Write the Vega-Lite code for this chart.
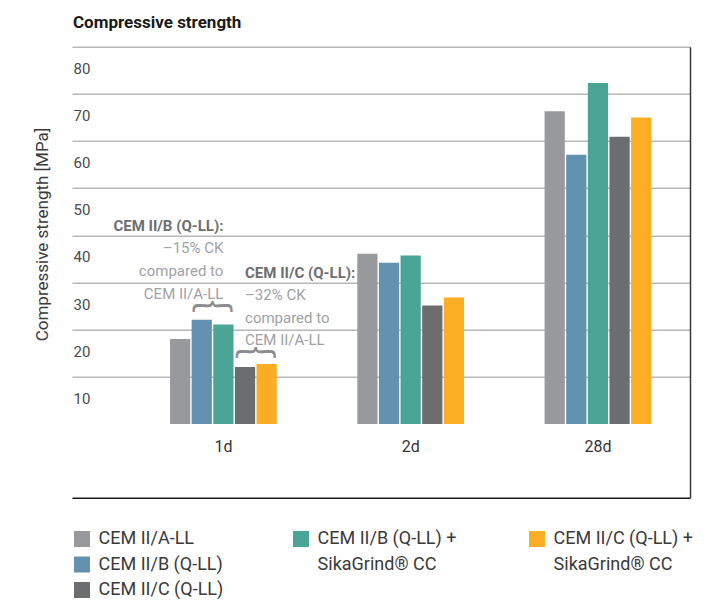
{
  "$schema": "https://vega.github.io/schema/vega-lite/v6.json",
  "width": 618,
  "height": 451,
  "autosize": {"type": "none"},
  "padding": {"left": 72, "top": 46.7, "right": 21.5, "bottom": 103.3},
  "background": "white",
  "title": {"text": "Compressive strength", "anchor": "start", "frame": "group", "font": "Roboto", "fontSize": 17, "fontWeight": "bold", "color": "#1a1a1a", "baseline": "alphabetic", "offset": 1.5, "dx": 1},
  "config": {
    "view": {"stroke": null},
    "font": "Roboto",
    "axis": {"labelFont": "Roboto", "titleFont": "Roboto"},
    "axisLeft": {"domain": false, "ticks": false, "tickSize": 0, "grid": true, "gridColor": "#b8b8b8", "gridWidth": 1.5, "labelAlign": "left", "labelBaseline": "middle", "labelPadding": -1, "labelOffset": 21.6, "labelFontSize": 15, "labelColor": "#4a4a4a", "titleFontSize": 17, "titleFontWeight": "normal", "titleColor": "#3a3a3a", "titleX": -30, "titleY": 187.3, "titleAlign": "center", "titleBaseline": "middle", "titleAngle": -90},
    "axisRight": {"domain": true, "domainColor": "#3a3a3a", "domainWidth": 1.5, "labels": false, "ticks": false, "grid": false},
    "axisBottom": {"domain": true, "domainColor": "#1a1a1a", "domainWidth": 1.5, "ticks": false, "tickSize": 0, "labelPadding": -51, "labelBaseline": "middle", "labelFontSize": 16, "labelColor": "#333333", "labelAngle": 0, "grid": false},
    "legend": {"orient": "none", "title": null, "padding": 0, "rowPadding": 7.5, "symbolType": "square", "symbolSize": 256, "symbolStrokeWidth": 0, "symbolOpacity": 1, "labelFont": "Roboto", "labelFontSize": 18, "labelColor": "#3a3a3a", "labelOffset": 7.6, "labelLimit": 400}
  },
  "datasets": {
    "bars": [
      {"period": "1d", "series": "CEM II/A-LL", "value": 18.0},
      {"period": "1d", "series": "CEM II/B (Q-LL)", "value": 22.1},
      {"period": "1d", "series": "CEM II/B (Q-LL) + SikaGrind® CC", "value": 21.1},
      {"period": "1d", "series": "CEM II/C (Q-LL)", "value": 12.1},
      {"period": "1d", "series": "CEM II/C (Q-LL) + SikaGrind® CC", "value": 12.7},
      {"period": "2d", "series": "CEM II/A-LL", "value": 36.1},
      {"period": "2d", "series": "CEM II/B (Q-LL)", "value": 34.2},
      {"period": "2d", "series": "CEM II/B (Q-LL) + SikaGrind® CC", "value": 35.7},
      {"period": "2d", "series": "CEM II/C (Q-LL)", "value": 25.1},
      {"period": "2d", "series": "CEM II/C (Q-LL) + SikaGrind® CC", "value": 26.8},
      {"period": "28d", "series": "CEM II/A-LL", "value": 66.3},
      {"period": "28d", "series": "CEM II/B (Q-LL)", "value": 57.1},
      {"period": "28d", "series": "CEM II/B (Q-LL) + SikaGrind® CC", "value": 72.3},
      {"period": "28d", "series": "CEM II/C (Q-LL)", "value": 60.9},
      {"period": "28d", "series": "CEM II/C (Q-LL) + SikaGrind® CC", "value": 65.0}
    ],
    "notes": [
      {"group": "r", "kind": "head", "period": "1d", "series": "CEM II/B (Q-LL) + SikaGrind® CC", "y": 41.0, "text": "CEM II/B (Q-LL):"},
      {"group": "r", "kind": "body", "period": "1d", "series": "CEM II/B (Q-LL) + SikaGrind® CC", "y": 36.2, "text": "–15% CK"},
      {"group": "r", "kind": "body", "period": "1d", "series": "CEM II/B (Q-LL) + SikaGrind® CC", "y": 31.4, "text": "compared to"},
      {"group": "r", "kind": "body", "period": "1d", "series": "CEM II/B (Q-LL) + SikaGrind® CC", "y": 26.6, "text": "CEM II/A-LL"},
      {"group": "l", "kind": "head", "period": "1d", "series": "CEM II/C (Q-LL)", "y": 31.0, "text": "CEM II/C (Q-LL):"},
      {"group": "l", "kind": "body", "period": "1d", "series": "CEM II/C (Q-LL)", "y": 26.2, "text": "–32% CK"},
      {"group": "l", "kind": "body", "period": "1d", "series": "CEM II/C (Q-LL)", "y": 21.5, "text": "compared to"},
      {"group": "l", "kind": "body", "period": "1d", "series": "CEM II/C (Q-LL)", "y": 16.7, "text": "CEM II/A-LL"}
    ],
    "braces": [
      {"period": "1d", "series": "CEM II/B (Q-LL)", "y": 27.3, "text": "︷"},
      {"period": "1d", "series": "CEM II/C (Q-LL)", "y": 17.7, "text": "︷"}
    ]
  },
  "layer": [
    {
      "data": {"name": "bars"},
      "transform": [{"filter": "indexof(datum.series, 'SikaGrind') < 0"}],
      "mark": {"type": "bar"},
      "encoding": {
        "x": {"field": "period", "type": "nominal", "title": null, "sort": null,
              "scale": {"type": "band", "domain": ["1d", "2d", "28d"], "paddingInner": 0.43, "paddingOuter": 0.365, "align": 0.717}},
        "xOffset": {"field": "series", "type": "nominal",
              "scale": {"domain": ["CEM II/A-LL", "CEM II/B (Q-LL)", "CEM II/B (Q-LL) + SikaGrind® CC", "CEM II/C (Q-LL)", "CEM II/C (Q-LL) + SikaGrind® CC"], "paddingInner": 0.065, "paddingOuter": 0}},
        "y": {"field": "value", "type": "quantitative", "title": "Compressive strength [MPa]",
              "scale": {"domain": [-15.63, 80], "nice": false, "zero": false},
              "axis": {"values": [10, 20, 30, 40, 50, 60, 70, 80]}},
        "color": {"field": "series", "type": "nominal",
              "scale": {"domain": ["CEM II/A-LL", "CEM II/B (Q-LL)", "CEM II/C (Q-LL)"], "range": ["#98999c", "#6392b0", "#6c6d70"]},
              "legend": {"legendX": 1, "legendY": 483.3, "direction": "vertical"}}
      }
    },
    {
      "data": {"name": "bars"},
      "transform": [{"filter": "indexof(datum.series, 'SikaGrind') >= 0"}],
      "mark": {"type": "bar"},
      "encoding": {
        "x": {"field": "period", "type": "nominal", "title": null},
        "xOffset": {"field": "series", "type": "nominal"},
        "y": {"field": "value", "type": "quantitative", "axis": null},
        "color": {"field": "series", "type": "nominal",
              "scale": {"domain": ["CEM II/B (Q-LL) + SikaGrind® CC", "CEM II/C (Q-LL) + SikaGrind® CC"], "range": ["#4aa597", "#fbad24"]},
              "legend": {"legendX": 220, "legendY": 483.3, "direction": "horizontal", "columns": 2, "columnPadding": 71,
                         "labelExpr": "[replace(datum.label, ' + SikaGrind® CC', ' +'), 'SikaGrind® CC']",
                         "encode": {"labels": {"update": {"lineHeight": {"value": 26}}}}}}
      }
    },
    {
      "mark": {"type": "rule", "color": "#6b6b6b", "strokeWidth": 1.5},
      "encoding": {"y": {"datum": 0, "type": "quantitative", "axis": null}}
    },
    {
      "mark": {"type": "rule", "color": "#1a1a1a", "strokeWidth": 1.5},
      "encoding": {"y": {"datum": 80, "type": "quantitative", "title": null, "axis": {"orient": "right", "title": null}}}
    },
    {
      "data": {"name": "notes"},
      "transform": [{"filter": "datum.group == 'r' && datum.kind == 'head'"}],
      "mark": {"type": "text", "align": "right", "baseline": "alphabetic", "font": "Roboto", "fontSize": 15, "fontWeight": "bold", "color": "#6d6e71"},
      "encoding": {"x": {"field": "period", "type": "nominal", "title": null}, "xOffset": {"field": "series", "type": "nominal"}, "y": {"field": "y", "type": "quantitative", "axis": null}, "text": {"field": "text"}}
    },
    {
      "data": {"name": "notes"},
      "transform": [{"filter": "datum.group == 'r' && datum.kind == 'body'"}],
      "mark": {"type": "text", "align": "right", "baseline": "alphabetic", "font": "Roboto", "fontSize": 15, "color": "#a0a2a5"},
      "encoding": {"x": {"field": "period", "type": "nominal", "title": null}, "xOffset": {"field": "series", "type": "nominal"}, "y": {"field": "y", "type": "quantitative", "axis": null}, "text": {"field": "text"}}
    },
    {
      "data": {"name": "notes"},
      "transform": [{"filter": "datum.group == 'l' && datum.kind == 'head'"}],
      "mark": {"type": "text", "align": "left", "baseline": "alphabetic", "font": "Roboto", "fontSize": 15, "fontWeight": "bold", "color": "#6d6e71"},
      "encoding": {"x": {"field": "period", "type": "nominal", "title": null}, "xOffset": {"field": "series", "type": "nominal"}, "y": {"field": "y", "type": "quantitative", "axis": null}, "text": {"field": "text"}}
    },
    {
      "data": {"name": "notes"},
      "transform": [{"filter": "datum.group == 'l' && datum.kind == 'body'"}],
      "mark": {"type": "text", "align": "left", "baseline": "alphabetic", "font": "Roboto", "fontSize": 15, "color": "#a0a2a5"},
      "encoding": {"x": {"field": "period", "type": "nominal", "title": null}, "xOffset": {"field": "series", "type": "nominal"}, "y": {"field": "y", "type": "quantitative", "axis": null}, "text": {"field": "text"}}
    },
    {
      "data": {"name": "braces"},
      "mark": {"type": "text", "align": "center", "baseline": "middle", "font": "Noto Sans CJK SC", "fontSize": 42, "color": "#8c8d90", "dx": 10.7},
      "encoding": {"x": {"field": "period", "type": "nominal", "title": null}, "xOffset": {"field": "series", "type": "nominal"}, "y": {"field": "y", "type": "quantitative", "axis": null}, "text": {"field": "text"}}
    }
  ],
  "resolve": {"axis": {"y": "independent"}, "scale": {"color": "independent"}, "legend": {"color": "independent"}}
}
